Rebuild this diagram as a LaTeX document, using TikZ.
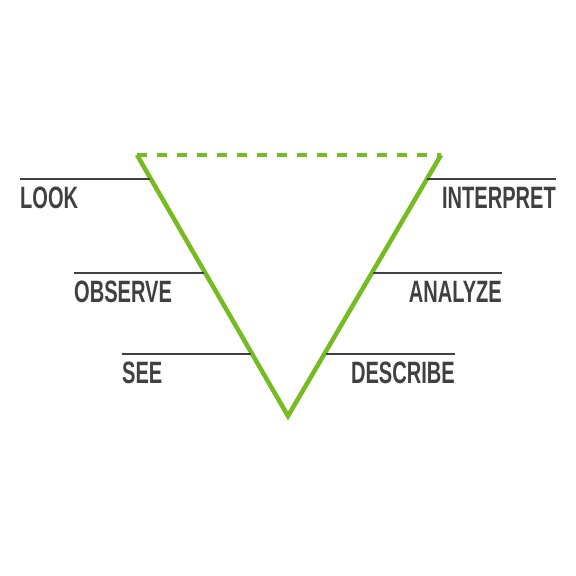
\documentclass[tikz,border=0pt]{standalone}
\usepackage{fontspec}
\setmainfont{Liberation Sans}
\newfontfamily\condfont[FakeStretch=0.65]{Liberation Sans}
\usepackage{xcolor}
\usepackage{tikz}
\usetikzlibrary{positioning}
\definecolor{leafgreen}{HTML}{76BC21}
\definecolor{inkgray}{HTML}{404040}

\begin{document}
\begin{tikzpicture}[x=1bp,y=-1bp,
  edge/.style={draw=leafgreen,line width=4.5bp,line join=miter},
  rule/.style={draw=inkgray,line width=2bp},
  lbl/.style={font=\condfont\bfseries\fontsize{31}{31}\selectfont,text=inkgray,inner sep=0pt}
]
\useasboundingbox (0,0) rectangle (576,576);
% the triangle
\coordinate (tl) at (137,155);
\coordinate (tr) at (441,155);
\coordinate (bot) at (288,416);
\draw[edge,dash pattern=on 10bp off 10bp] (tl) -- (tr);
\draw[edge] (tl) -- (bot) -- (tr);
% left side
\coordinate (lookA) at (20,179);   \coordinate (lookB) at (150,179);
\coordinate (obsA) at (74,273);    \coordinate (obsB) at (204,273);
\coordinate (seeA) at (122,354);   \coordinate (seeB) at (251,354);
\draw[rule] (lookA) -- (lookB);
\draw[rule] (obsA) -- (obsB);
\draw[rule] (seeA) -- (seeB);
\node[lbl,below right=8bp and 0bp of lookA] (look) {LOOK};
\node[lbl,below right=8bp and 0bp of obsA] (observe) {OBSERVE};
\node[lbl,below right=8bp and 0bp of seeA] (see) {SEE};
% right side
\coordinate (intA) at (427,179);   \coordinate (intB) at (556,179);
\coordinate (anaA) at (373,273);   \coordinate (anaB) at (502,273);
\coordinate (desA) at (326,354);   \coordinate (desB) at (455,354);
\draw[rule] (intA) -- (intB);
\draw[rule] (anaA) -- (anaB);
\draw[rule] (desA) -- (desB);
\node[lbl,below left=8bp and 0bp of intB] (interpret) {INTERPRET};
\node[lbl,below left=8bp and 0bp of anaB] (analyze) {ANALYZE};
\node[lbl,below left=8bp and 0bp of desB] (describe) {DESCRIBE};
\end{tikzpicture}
\end{document}
